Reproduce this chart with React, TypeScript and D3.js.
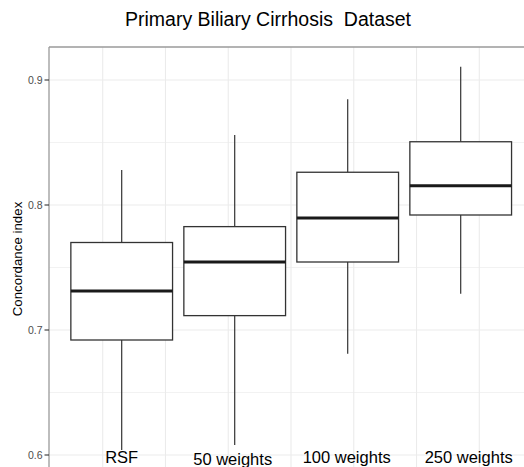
import React from "react";
import * as d3 from "d3";

const categories = ["RSF", "50 weights", "100 weights", "250 weights"];
const whiskerLow = [0.604, 0.608, 0.681, 0.729];
const q1 = [0.692, 0.7115, 0.7544, 0.792];
const median = [0.7312, 0.7544, 0.7896, 0.8154];
const q3 = [0.77, 0.7827, 0.8262, 0.8506];
const whiskerHigh = [0.828, 0.856, 0.8846, 0.9106];
const yTicks = [0.6, 0.7, 0.8, 0.9];
const yMinorTicks = [0.65, 0.75, 0.85];
const labelShift = [-2.3, -0.5, -2, -2];
const labelDx = [0, -2, -1, 8];

const W = 524;
const H = 467;
const panelLeft = 49;
const panelTop = 47;
const FONT = "'Liberation Sans', Arial, sans-serif";

export default function App() {
  const y = d3.scaleLinear().domain([0.6, 0.9]).range([455, 80]);
  const x = d3.scaleBand().domain(categories).range([65.2, 517.2]).padding(0);
  const bw = x.bandwidth() * 0.9;
  // vertical grid (independent of boxes in the source image)
  const gx = d3.scaleLinear().domain([0, 6]).range([102.7, 479.3]);
  const vGrid = d3.range(0, 7);

  return (
    <svg width={W} height={H} style={{ position: "absolute", left: 0, top: 0, background: "#fff" }}>
      <rect x={0} y={0} width={W} height={H} fill="#fff" />
      {yMinorTicks.map((t) => (
        <line key={"mn" + t} x1={panelLeft} x2={W} y1={y(t)} y2={y(t)} stroke="#f2f2f2" strokeWidth={1} />
      ))}
      {vGrid.map((i) => (
        <line key={"vg" + i} x1={gx(i)} x2={gx(i)} y1={panelTop} y2={H} stroke="#ebebeb" strokeWidth={1.1} />
      ))}
      {yTicks.map((t) => (
        <line key={"mj" + t} x1={panelLeft} x2={W} y1={y(t)} y2={y(t)} stroke="#ebebeb" strokeWidth={1.1} />
      ))}
      {/* panel border */}
      <line x1={panelLeft} x2={W} y1={panelTop} y2={panelTop} stroke="#9a9a9a" strokeWidth={1.3} />
      <line x1={panelLeft} x2={panelLeft} y1={panelTop} y2={H} stroke="#9a9a9a" strokeWidth={1.3} />

      {categories.map((c, i) => {
        const cx = (x(c) as number) + x.bandwidth() / 2;
        return (
          <g key={c}>
            <line x1={cx} x2={cx} y1={y(whiskerHigh[i])} y2={y(q3[i])} stroke="#333" strokeWidth={1.2} />
            <line x1={cx} x2={cx} y1={y(q1[i])} y2={y(whiskerLow[i])} stroke="#333" strokeWidth={1.2} />
            <rect
              x={cx - bw / 2}
              y={y(q3[i])}
              width={bw}
              height={y(q1[i]) - y(q3[i])}
              fill="#fff"
              stroke="#333"
              strokeWidth={1.3}
            />
            <line x1={cx - bw / 2} x2={cx + bw / 2} y1={y(median[i])} y2={y(median[i])} stroke="#1a1a1a" strokeWidth={2.8} />
            <text
              x={cx + labelDx[i]}
              y={465 + labelShift[i]}
              textAnchor="middle"
              fontFamily={FONT}
              fontSize={16.5}
              fill="#000"
            >
              {c}
            </text>
          </g>
        );
      })}

      {yTicks.map((t) => (
        <g key={"yt" + t}>
          <line x1={panelLeft - 4.5} x2={panelLeft} y1={y(t)} y2={y(t)} stroke="#333" strokeWidth={1.1} />
          <text
            x={panelLeft - 6.5}
            y={y(t)}
            dy="0.35em"
            textAnchor="end"
            fontFamily={FONT}
            fontSize={10.5}
            fill="#4d4d4d"
          >
            {d3.format(".1f")(t)}
          </text>
        </g>
      ))}

      <text
        transform={`translate(22,259) rotate(-90)`}
        textAnchor="middle"
        fontFamily={FONT}
        fontSize={13.3}
        fill="#000"
      >
        Concordance index
      </text>

      <text
        x={268}
        y={26}
        textAnchor="middle"
        fontFamily={FONT}
        fontSize={19.5}
        fill="#000"
        style={{ whiteSpace: "pre" }}
      >
        {"Primary Biliary Cirrhosis  Dataset"}
      </text>
    </svg>
  );
}
